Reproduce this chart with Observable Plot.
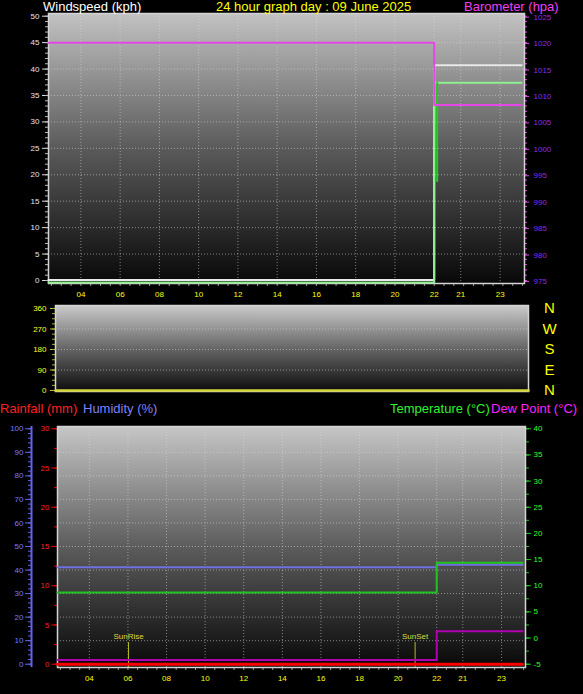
<!DOCTYPE html>
<html><head><meta charset="utf-8">
<script src="https://cdn.jsdelivr.net/npm/d3@7"></script>
<script src="https://cdn.jsdelivr.net/npm/@observablehq/plot@0.6"></script>
<style>
html,body{margin:0;padding:0;background:#000;}
#wrap{position:relative;width:583px;height:694px;background:#000;overflow:hidden;font-family:"Liberation Sans",Arial,sans-serif;}
.panel{position:absolute;left:0;}
.hdr{position:absolute;white-space:nowrap;font-size:13px;line-height:13px;}
</style></head><body><div id="wrap"></div>
<script>
// ---- data ----
const hourTicks = [4, 6, 8, 10, 12, 14, 16, 18, 20, 22, 23.35, 25.36];
const hourLabels = ["04","06","08","10","12","14","16","18","20","22","21","23"];
const stepHours = [2.35, 22, 26.45];
const windSpeed = [0, 37.8, 37.8];
const windGust = [0.1, 40.7, 40.7];
const barometer = [1020, 1008.2, 1008.2];
const windAvgHours = [22.15, 22.15];
const windAvg = [18.8, 37.4];
const dirHours = [2.35, 26.6];
const windDir = [0, 0];
const dirLabels = ["N", "W", "S", "E", "N"];
const dirValues = [360, 270, 180, 90, 0];
const humidity = [41.2, 42.2, 42.2];
const temperature = [8.7, 14.4, 14.4];
const dewPoint = [-4.2, 1.3, 1.3];
const rainfall = [0, 0, 0];
const sunLabels = ["SunRise", "SunSet"];
const sunHours = [6.03, 20.88];

// ---- helpers ----
const xDomain = [2.35, 26.6];
const FONT = "Liberation Sans, Arial, sans-serif";
const wrap = document.getElementById("wrap");
const gridStyle = {stroke: "#d8d8d8", strokeOpacity: 0.55, strokeDasharray: "1,2"};
const labelOf = d => hourLabels[hourTicks.indexOf(d)];

function addGrad(svg, id, stops) {
  const defs = d3.select(svg).insert("defs", ":first-child");
  const g = defs.append("linearGradient").attr("id", id)
    .attr("x1", 0).attr("y1", 0).attr("x2", 0).attr("y2", 1);
  stops.forEach(([o, c]) => g.append("stop").attr("offset", o).attr("stop-color", c));
}
function place(el, top) {
  el.classList.add("panel");
  el.style.top = top + "px";
  wrap.appendChild(el);
}
function hdr(text, left, top, color) {
  const d = document.createElement("div");
  d.className = "hdr";
  d.textContent = text;
  d.style.left = left + "px";
  d.style.top = top + "px";
  d.style.color = color;
  wrap.appendChild(d);
}

// ---- top panel: wind & barometer ----
const topRows = stepHours.map((h, i) => ({h, speed: windSpeed[i], gust: windGust[i], baro: barometer[i]}));
const avgRows = windAvgHours.map((h, i) => ({h, v: windAvg[i]}));

const topPlot = Plot.plot({
  width: 583, height: 302,
  marginLeft: 48, marginRight: 59, marginTop: 13, marginBottom: 19,
  style: {background: "transparent", fontFamily: FONT, fontSize: "8px", overflow: "visible"},
  x: {domain: xDomain, axis: null},
  y: {domain: [-0.57, 50.51], axis: null},
  marks: [
    Plot.frame({fill: "url(#gTop)"}),
    Plot.gridY(d3.range(5, 50, 5), gridStyle),
    Plot.gridX(hourTicks, gridStyle),
    Plot.axisY(d3.range(0, 51, 5), {anchor: "left", tickSize: 6, tickPadding: 3, tickFormat: d => String(d), fill: "#e4e4ff", stroke: "#dddddd", fontSize: 8, label: null}),
    Plot.axisY(d3.range(0, 51, 1), {anchor: "left", tickSize: 3, tickFormat: () => "", stroke: "#bbbbbb", label: null}),
    Plot.axisY(d3.range(0, 51, 5), {anchor: "right", tickSize: 4, tickPadding: 5, dy: 1, tickFormat: d => String(d + 975), fill: "#8a2cf0", stroke: "#e040e0", fontSize: 8, label: null}),
    Plot.axisY(d3.range(0, 51, 1), {anchor: "right", tickSize: 2, tickFormat: () => "", stroke: "#e040e0", label: null}),
    Plot.axisX(hourTicks, {anchor: "bottom", tickSize: 0, tickPadding: 8, tickFormat: labelOf, fill: "#ffff00", fontSize: 8, label: null}),
    Plot.axisX(d3.range(2.5, 26.6, 0.5), {anchor: "bottom", tickSize: 3, tickFormat: () => "", stroke: "#999999", label: null}),
    Plot.frame({stroke: "#d4d4d4", strokeWidth: 1.5}),
    Plot.line(topRows, {x: "h", y: "gust", curve: "step-after", stroke: "#e8e8e8", strokeWidth: 2}),
    Plot.line(topRows, {x: "h", y: "speed", curve: "step-after", stroke: "#90f090", strokeWidth: 2, dy: 2}),
    Plot.line(avgRows, {x: "h", y: "v", stroke: "#22cc22", strokeWidth: 2}),
    Plot.line(topRows, {x: "h", y: d => d.baro - 975, curve: "step-after", stroke: "#e448e4", strokeWidth: 2})
  ]
});
addGrad(topPlot, "gTop", [[0, "#c2c2c2"], [0.5, "#5a5a5a"], [1, "#080808"]]);
place(topPlot, 0);

// ---- middle panel: wind direction ----
const dirRows = dirHours.map((h, i) => ({h, v: windDir[i]}));
const dirText = dirValues.map((v, i) => ({v, label: dirLabels[i]}));
const midPlot = Plot.plot({
  width: 583, height: 100,
  marginLeft: 55, marginRight: 55, marginTop: 5, marginBottom: 9,
  style: {background: "transparent", fontFamily: FONT, fontSize: "8px", overflow: "visible"},
  x: {domain: xDomain, axis: null},
  y: {domain: [-4.4, 373.2], axis: null},
  marks: [
    Plot.frame({fill: "url(#gMid)"}),
    Plot.gridY([90, 180, 270], gridStyle),
    Plot.axisY(d3.range(0, 361, 90), {anchor: "left", tickSize: 5, tickPadding: 4, tickFormat: d => String(d), fill: "#ffff20", stroke: "#c8c832", fontSize: 8, label: null}),
    Plot.axisY(d3.range(0, 361, 22.5), {anchor: "left", tickSize: 3, tickFormat: () => "", stroke: "#b0b030", label: null}),
    Plot.frame({stroke: "#d4d4d4", strokeWidth: 1.5}),
    Plot.line(dirRows, {x: "h", y: "v", stroke: "#d4d43c", strokeWidth: 2.5}),
    Plot.text(dirText, {x: () => xDomain[1], y: "v", text: "label", dx: 21, fill: "#ffff00", fontSize: 15})
  ]
});
addGrad(midPlot, "gMid", [[0, "#cacaca"], [0.5, "#666666"], [1, "#0c0c0c"]]);
place(midPlot, 300);

// ---- bottom panel: rain, humidity, temperature, dew point ----
const hum2y = h => h * 0.3;
const temp2y = t => (t + 5) * 2 / 3;
const botRows = stepHours.map((h, i) => ({h, hum: humidity[i], temp: temperature[i], dew: dewPoint[i], rain: rainfall[i]}));
const sunRows = sunHours.map((h, i) => ({h, label: sunLabels[i]}));
const botPlot = Plot.plot({
  width: 583, height: 294,
  marginLeft: 57, marginRight: 58, marginTop: 26, marginBottom: 27,
  style: {background: "transparent", fontFamily: FONT, fontSize: "8px", overflow: "visible"},
  x: {domain: xDomain, axis: null},
  y: {domain: [-0.42, 30.29], axis: null},
  marks: [
    Plot.frame({fill: "url(#gBot)"}),
    Plot.gridY(d3.range(10, 100, 10).map(hum2y), gridStyle),
    Plot.gridX(hourTicks, gridStyle),
    // rainfall axis
    Plot.axisY(d3.range(0, 31, 5), {anchor: "left", tickSize: 6, tickPadding: 2, tickFormat: d => String(d), fill: "#ff2020", stroke: "#e00000", fontSize: 8, label: null}),
    Plot.axisY(d3.range(0, 31, 2.5), {anchor: "left", tickSize: 3, tickFormat: () => "", stroke: "#e00000", label: null}),
    // humidity axis
    Plot.ruleX([xDomain[0]], {dx: -26, stroke: "#6464e8", strokeWidth: 2}),
    Plot.axisY(d3.range(0, 101, 10).map(hum2y), {anchor: "left", dx: -26, tickSize: 6, tickPadding: 2, tickFormat: d => String(Math.round(d / 0.3)), fill: "#7a7aff", stroke: "#6464e8", fontSize: 8, label: null}),
    Plot.axisY(d3.range(0, 101, 2).map(hum2y), {anchor: "left", dx: -26, tickSize: 3, tickFormat: () => "", stroke: "#6464e8", label: null}),
    // temperature axis
    Plot.axisY(d3.range(-5, 41, 5).map(temp2y), {anchor: "right", tickSize: 5, tickPadding: 3, tickFormat: d => String(Math.round(d * 1.5 - 5)), fill: "#30ff30", stroke: "#20c020", fontSize: 8, label: null}),
    Plot.axisY(d3.range(-5, 41, 2.5).map(temp2y), {anchor: "right", tickSize: 3, tickFormat: () => "", stroke: "#20c020", label: null}),
    // x axis
    Plot.axisX(hourTicks, {anchor: "bottom", tickSize: 0, tickPadding: 8, tickFormat: labelOf, fill: "#ffff00", fontSize: 8, label: null}),
    Plot.axisX(d3.range(2.5, 26.6, 0.5), {anchor: "bottom", tickSize: 3, tickFormat: () => "", stroke: "#999999", label: null}),
    Plot.frame({stroke: "#d4d4d4", strokeWidth: 1.5}),
    // sunrise / sunset
    Plot.ruleX(sunRows, {x: "h", insetTop: 216, stroke: "#b8b820", strokeWidth: 1}),
    Plot.text(sunRows, {x: "h", text: "label", frameAnchor: "bottom", dy: -29, fill: "#dcdc40", fontSize: 8}),
    // series
    Plot.line(botRows, {x: "h", y: d => hum2y(d.hum), curve: "step-after", stroke: "#7070e0", strokeWidth: 2}),
    Plot.line(botRows, {x: "h", y: d => temp2y(d.temp), curve: "step-after", stroke: "#20c420", strokeWidth: 2}),
    Plot.line(botRows, {x: "h", y: d => temp2y(d.dew), curve: "step-after", stroke: "#b000b0", strokeWidth: 2}),
    Plot.line(botRows, {x: "h", y: "rain", curve: "step-after", stroke: "#ff0000", strokeWidth: 3})
  ]
});
addGrad(botPlot, "gBot", [[0, "#c6c6c6"], [0.5, "#5c5c5c"], [1, "#080808"]]);
place(botPlot, 400);

// ---- headers ----
hdr("Windspeed (kph)", 43, 0, "#ffffff");
hdr("24 hour graph day : 09 June 2025", 216, 0, "#ffff00");
hdr("Barometer (hpa)", 464, 0, "#f040f0");
hdr("Rainfall (mm)", 0, 402, "#ff2020");
hdr("Humidity (%)", 83, 402, "#8080ff");
hdr("Temperature (°C)", 390, 402, "#30f030");
hdr("Dew Point (°C)", 491, 402, "#ff20ff");
</script></body></html>
